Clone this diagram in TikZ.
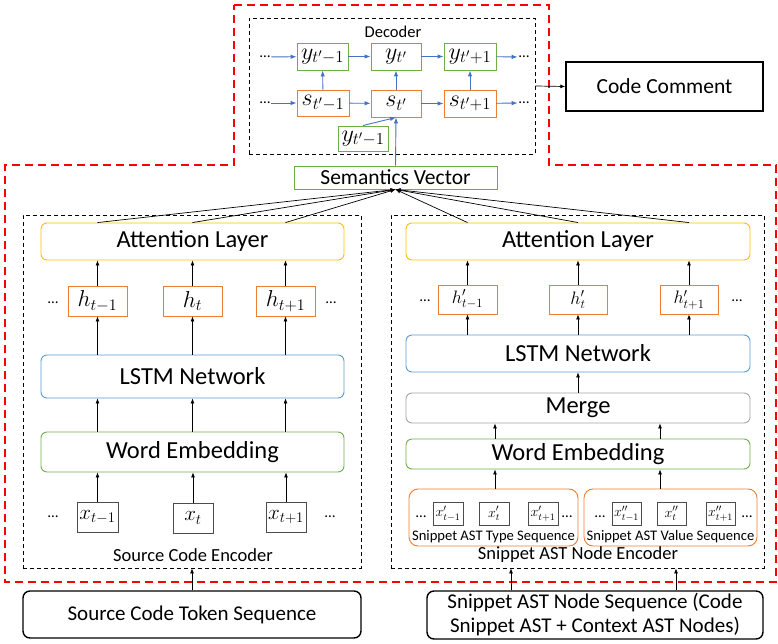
\RequirePackage{fix-cm}
\documentclass[tikz,border=0pt]{standalone}
\usepackage{fontspec}
\setmainfont{Carlito}
\usetikzlibrary{arrows.meta,calc}
\definecolor{accOrange}{HTML}{ED7D31}
\definecolor{accGreen}{HTML}{70AD47}
\definecolor{accBlue}{HTML}{5B9BD5}
\definecolor{accYellow}{HTML}{FFC000}
\definecolor{accGray}{HTML}{A5A5A5}
\definecolor{flowBlue}{HTML}{4472C4}
\begin{document}
\begin{tikzpicture}[x=1pt,y=-1pt,
  box/.style={draw, line width=0.9pt, inner sep=0pt, align=center},
  layer/.style={box, rounded corners=6pt, font=\fontsize{24.5}{26}\selectfont},
  cell/.style={box, font=\fontsize{23}{23}\selectfont},
  deccell/.style={box, font=\fontsize{24}{24}\selectfont},
  smallcell/.style={box, draw=black!70, font=\fontsize{14}{14}\selectfont},
  dashbox/.style={draw, dashed, dash pattern=on 4pt off 3pt, line width=0.8pt, inner sep=0pt},
  ioBox/.style={draw, line width=1.4pt, inner sep=0pt, align=center, font=\fontsize{21}{24}\selectfont},
  dotsn/.style={inner sep=1pt, font=\fontsize{15}{15}\selectfont},
  lbl/.style={inner sep=0pt, font=\fontsize{18.5}{19}\selectfont},
  tinylbl/.style={inner sep=0pt, font=\fontsize{14.6}{15}\selectfont},
  arr/.style={-{Latex[length=5pt,width=4pt]}, line width=0.7pt},
  barr/.style={-{Latex[length=6pt,width=4.5pt]}, line width=0.9pt, draw=flowBlue}
]
\useasboundingbox (0,0) rectangle (778,644);

% ---------- red dashed region around the model ----------
\draw[red, line width=1.8pt, dash pattern=on 8pt off 5pt]
  (234,5) -- (549,5) -- (549,165) -- (776,165) -- (776,582) -- (5,582) -- (5,165) -- (234,165) -- cycle;

% ---------- decoder ----------
\node[dashbox, minimum width=286pt, minimum height=136pt] (dec) at (392,86) {};
\node[lbl, font=\fontsize{16.5}{17}\selectfont] (declbl) at (393,32) {Decoder};

\node[deccell, draw=accGreen, minimum width=51pt, minimum height=27pt] (y1) at (322.5,56.5) {$y_{t'-1}$};
\node[deccell, draw=accGreen, minimum width=50pt, minimum height=27pt] (y2) at (396,56.5) {$y_{t'}$};
\node[deccell, draw=accGreen, minimum width=52pt, minimum height=27pt] (y3) at (470,56.5) {$y_{t'+1}$};
\node[deccell, draw=accOrange, minimum width=52pt, minimum height=26pt] (s1) at (323,103) {$s_{t'-1}$};
\node[deccell, draw=accOrange, minimum width=50pt, minimum height=27pt] (s2) at (396,103.5) {$s_{t'}$};
\node[deccell, draw=accOrange, minimum width=52pt, minimum height=27pt] (s3) at (470,103.5) {$s_{t'+1}$};
\node[deccell, draw=accGreen, minimum width=50pt, minimum height=25pt] (yin) at (363,138.5) {$y_{t'-1}$};

\node[dotsn] (ldy) at (265,57) {\dots};
\node[dotsn] (lds) at (265,103) {\dots};
\node[dotsn] (rdy) at (524,57) {\dots};
\node[dotsn] (rds) at (524,103) {\dots};

\draw[barr] (ldy) -- (y1);
\draw[barr] (y1) -- (y2);
\draw[barr] (y2) -- (y3);
\draw[barr] (y3) -- (rdy);
\draw[barr] (lds) -- (s1);
\draw[barr] (s1) -- (s2);
\draw[barr] (s2) -- (s3);
\draw[barr] (s3) -- (rds);
\draw[barr] (s1) -- (y1);
\draw[barr] (s2) -- (y2);
\draw[barr] (s3) -- (y3);
\draw[barr] (yin.north) -- (s2.south);

% ---------- semantics vector and output ----------
\node[box, draw=accGreen, minimum width=203pt, minimum height=23pt, font=\fontsize{21.5}{22}\selectfont] (sem) at (395.5,177.5) {Semantics Vector};
\draw[barr] (sem.north) -- (s2.south);

\node[ioBox, minimum width=197pt, minimum height=49pt, font=\fontsize{21.5}{22}\selectfont] (cc) at (664.5,86.5) {Code Comment};
\draw[arr] (dec.east) -- (cc.west);

% ---------- source code encoder ----------
\node[dashbox, minimum width=338pt, minimum height=353pt] (encL) at (192,391.5) {};
\node[layer, draw=accYellow, minimum width=303pt, minimum height=37pt] (attL) at (192.5,241.5) {Attention Layer};
\node[cell, draw=accOrange, minimum width=59pt, minimum height=30pt] (h1) at (97.5,301) {$h_{t-1}$};
\node[cell, draw=accOrange, minimum width=59pt, minimum height=30pt] (h2) at (192.5,301) {$h_{t}$};
\node[cell, draw=accOrange, minimum width=59pt, minimum height=30pt] (h3) at (285.5,301) {$h_{t+1}$};
\node[dotsn] (hdl) at (53,303) {\dots};
\node[dotsn] (hdr) at (331,303) {\dots};
\node[layer, draw=accBlue, minimum width=303pt, minimum height=43pt] (lstmL) at (192.5,376.5) {LSTM Network};
\node[layer, draw=accGreen, minimum width=303pt, minimum height=40pt] (weL) at (192.5,452) {Word Embedding};
\node[cell, draw=black!70, minimum width=41pt, minimum height=30pt, font=\fontsize{21}{21}\selectfont] (x1) at (97.5,517) {$x_{t-1}$};
\node[cell, draw=black!70, minimum width=40pt, minimum height=30pt, font=\fontsize{21}{21}\selectfont] (x2) at (193,518) {$x_{t}$};
\node[cell, draw=black!70, minimum width=40pt, minimum height=30pt, font=\fontsize{21}{21}\selectfont] (x3) at (286,517) {$x_{t+1}$};
\node[dotsn] (xdl) at (53,517) {\dots};
\node[dotsn] (xdr) at (330,517) {\dots};
\node[lbl] (encLlbl) at (193,555) {Source Code Encoder};

\foreach \k in {1,2,3} {
  \draw[arr] (x\k.north) -- (x\k.north |- weL.south);
  \draw[arr] (h\k.south |- lstmL.north) -- (h\k.south);
  \draw[arr] (h\k.north) -- (h\k.north |- attL.south);
  \draw[arr] (h\k.south |- weL.north) -- (h\k.south |- lstmL.south);
}

\node[ioBox, rounded corners=7pt, minimum width=338pt, minimum height=47pt] (srcIn) at (192,614.5) {Source Code Token Sequence};
\draw[arr] (srcIn.north) -- (srcIn.north |- encL.south);

% ---------- snippet AST node encoder ----------
\node[dashbox, minimum width=373pt, minimum height=353pt] (encR) at (577.5,391.5) {};
\node[layer, draw=accYellow, minimum width=344pt, minimum height=37pt] (attR) at (578,241.5) {Attention Layer};
\node[cell, draw=accOrange, minimum width=59pt, minimum height=29pt, font=\fontsize{18}{18}\selectfont] (g1) at (467.5,299.5) {$h'_{t-1}$};
\node[cell, draw=accOrange, minimum width=58pt, minimum height=29pt, font=\fontsize{18}{18}\selectfont] (g2) at (578,299.5) {$h'_{t}$};
\node[cell, draw=accOrange, minimum width=58pt, minimum height=29pt, font=\fontsize{18}{18}\selectfont] (g3) at (689,299.5) {$h'_{t+1}$};
\node[dotsn] (gdl) at (425,301) {\dots};
\node[dotsn] (gdr) at (737,301) {\dots};
\node[layer, draw=accBlue, minimum width=344pt, minimum height=37pt] (lstmR) at (578,353.5) {LSTM Network};
\node[layer, draw=accGray, minimum width=344pt, minimum height=30pt] (merge) at (578,408) {Merge};
\node[layer, draw=accGreen, minimum width=344pt, minimum height=30pt] (weR) at (578,454) {Word Embedding};

\node[box, draw=accOrange, rounded corners=9pt, minimum width=169pt, minimum height=57pt] (grpT) at (493.5,517.5) {};
\node[box, draw=accOrange, rounded corners=9pt, minimum width=173pt, minimum height=57pt] (grpV) at (670.5,517.5) {};

\node[smallcell, minimum width=30pt, minimum height=23pt] (xa1) at (448,513.5) {$x'_{t-1}$};
\node[smallcell, minimum width=30pt, minimum height=23pt] (xa2) at (494,513.5) {$x'_{t}$};
\node[smallcell, minimum width=30pt, minimum height=23pt] (xa3) at (543,513.5) {$x'_{t+1}$};
\node[smallcell, minimum width=29pt, minimum height=23pt] (xb1) at (626.5,513.5) {$x''_{t-1}$};
\node[smallcell, minimum width=29pt, minimum height=23pt] (xb2) at (671.5,513.5) {$x''_{t}$};
\node[smallcell, minimum width=29pt, minimum height=23pt] (xb3) at (720.5,513.5) {$x''_{t+1}$};
\node[dotsn] (xadl) at (421,517) {\dots};
\node[dotsn] (xadr) at (567,517) {\dots};
\node[dotsn] (xbdl) at (600,517) {\dots};
\node[dotsn] (xbdr) at (747,517) {\dots};
\node[tinylbl] (typeLbl) at (493.5,537) {Snippet AST Type Sequence};
\node[tinylbl] (valLbl) at (670.5,537) {Snippet AST Value Sequence};
\node[lbl] (encRlbl) at (578,555) {Snippet AST Node Encoder};

\foreach \k in {1,2,3} {
  \draw[arr] (g\k.north) -- (g\k.north |- attR.south);
  \draw[arr] (g\k.south |- lstmR.north) -- (g\k.south);
}
\draw[arr] (merge.north) -- (lstmR.south);
\coordinate (colA) at (495,0);
\coordinate (colB) at (660,0);
\draw[arr] (colA |- weR.north) -- (colA |- merge.south);
\draw[arr] (colB |- weR.north) -- (colB |- merge.south);
\draw[arr] (colA |- grpT.north) -- (colA |- weR.south);
\draw[arr] (colB |- grpV.north) -- (colB |- weR.south);

\node[ioBox, rounded corners=7pt, minimum width=336pt, minimum height=48pt] (astIn) at (595,615) {Snippet AST Node Sequence (Code\\Snippet AST + Context AST Nodes)};
\coordinate (colC) at (511,0);
\coordinate (colD) at (676,0);
\draw[arr] (colC |- astIn.north) -- (colC |- encR.south);
\draw[arr] (colD |- astIn.north) -- (colD |- encR.south);

% ---------- attention outputs gathered into the semantics vector ----------
\foreach \src in {h1,h2,h3,g1,g2,g3} {
  \draw[arr] (\src.north |- attL.north) -- (sem.south);
}
\end{tikzpicture}
\end{document}
